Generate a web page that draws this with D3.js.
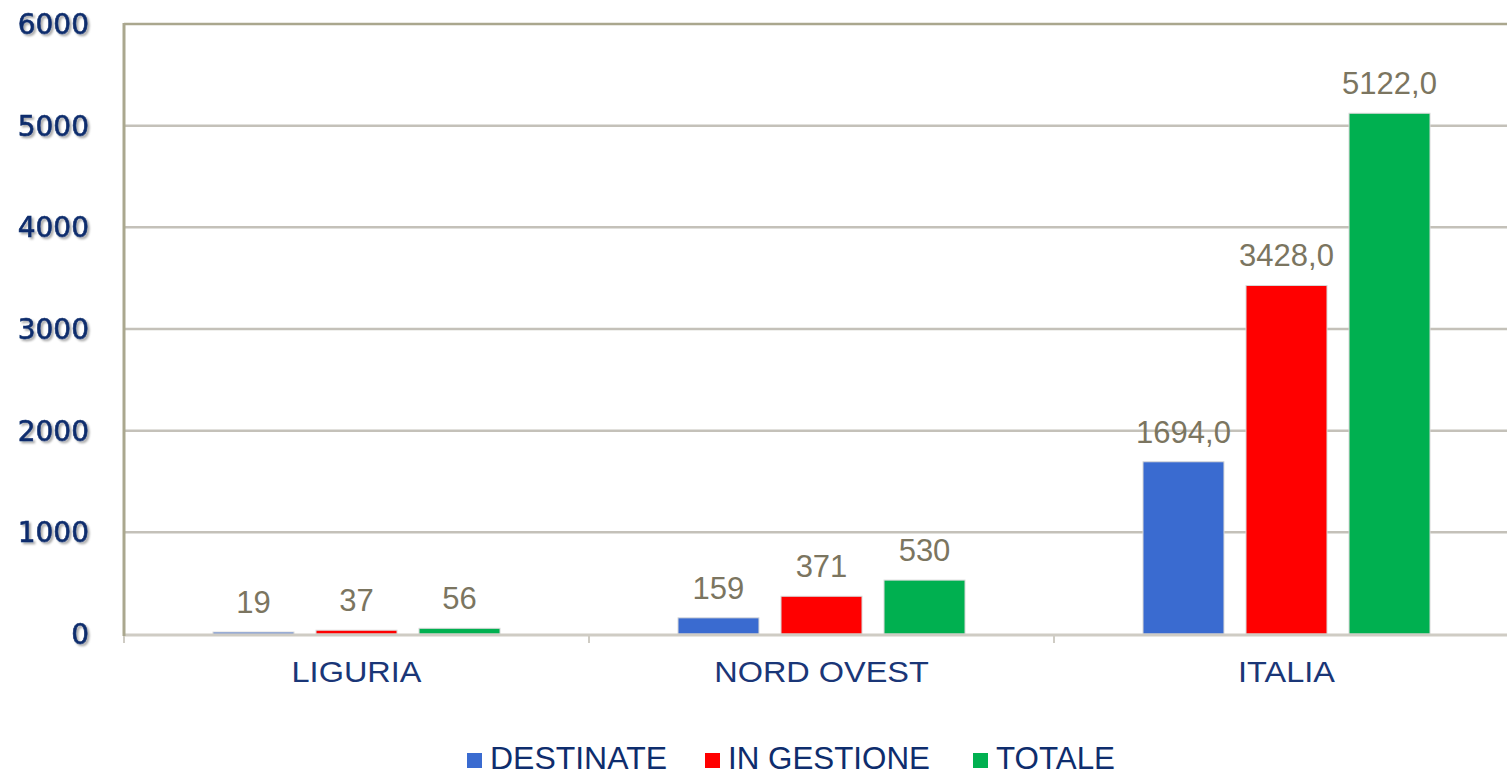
<!DOCTYPE html>
<html>
<head>
<meta charset="utf-8">
<script src="https://cdn.jsdelivr.net/npm/d3@7"></script>
<style>
  body { margin:0; background:#fff; }
  svg { display:block; }
</style>
</head>
<body>
<svg></svg>
<script>
var categories = ["LIGURIA", "NORD OVEST", "ITALIA"];
var seriesNames = ["DESTINATE", "IN GESTIONE", "TOTALE"];
var destinate = [19, 159, 1694];
var inGestione = [37, 371, 3428];
var totale = [56, 530, 5122];
var labelsDestinate = ["19", "159", "1694,0"];
var labelsInGestione = ["37", "371", "3428,0"];
var labelsTotale = ["56", "530", "5122,0"];
var yTicks = [0, 1000, 2000, 3000, 4000, 5000, 6000];
var colors = ["#3a6bd0", "#ff0000", "#00b050"];

var drawGraph = function()
{
  var screen = { width:1507, height:775 };

  var svg = d3.select("svg")
              .attr("width", screen.width)
              .attr("height", screen.height);

  var margins = { top:24, left:124, bottom:141 };
  var zeroY = screen.height - margins.bottom;

  var defs = svg.append("defs");
  var f = defs.append("filter").attr("id","shadow")
              .attr("x","-20%").attr("y","-20%").attr("width","150%").attr("height","160%");
  f.append("feDropShadow").attr("dx",2).attr("dy",2).attr("stdDeviation",1.3)
   .attr("flood-color","#000").attr("flood-opacity",0.35);

  var yScale = d3.scaleLinear()
                 .domain([0,6000])
                 .range([zeroY, margins.top]);

  var xScale = d3.scaleBand()
                 .domain(categories)
                 .range([margins.left, margins.left + 465*3]);

  var xInner = d3.scaleBand()
                 .domain(seriesNames)
                 .range([89, 376])
                 .paddingInner(0.214);

  // gridlines
  svg.append("g").selectAll("line")
     .data(yTicks.filter(function(d){ return d > 0 && d < 6000; }))
     .enter().append("line")
     .attr("x1", margins.left).attr("x2", screen.width)
     .attr("y1", function(d){ return yScale(d); })
     .attr("y2", function(d){ return yScale(d); })
     .attr("stroke", "#c4c1b9").attr("stroke-width", 2.5);

  // top border
  svg.append("line")
     .attr("x1", margins.left).attr("x2", screen.width)
     .attr("y1", yScale(6000)).attr("y2", yScale(6000))
     .attr("stroke", "#aaa78e").attr("stroke-width", 2.5);

  // y labels
  svg.append("g").selectAll("text")
     .data(yTicks)
     .enter().append("text")
     .attr("x", 89)
     .attr("y", function(d){ return yScale(d); })
     .attr("dy", "0.36em")
     .attr("text-anchor", "end")
     .attr("font-family", "DejaVu Sans, Verdana, sans-serif")
     .attr("font-size", 28)
     .attr("fill", "#0e2d6d")
     .attr("stroke", "#0e2d6d")
     .attr("stroke-width", 0.6)
     .attr("filter", "url(#shadow)")
     .text(function(d){ return d; });

  var table = categories.map(function(c, i)
  {
    return {
      cat: c,
      values: [
        { name: seriesNames[0], value: destinate[i], label: labelsDestinate[i], color: colors[0] },
        { name: seriesNames[1], value: inGestione[i], label: labelsInGestione[i], color: colors[1] },
        { name: seriesNames[2], value: totale[i], label: labelsTotale[i], color: colors[2] }
      ]
    };
  });

  var groups = svg.append("g").selectAll("g")
                  .data(table)
                  .enter().append("g")
                  .attr("transform", function(d){ return "translate(" + xScale(d.cat) + ",0)"; });

  groups.selectAll("rect")
        .data(function(d){ return d.values; })
        .enter().append("rect")
        .attr("x", function(d){ return xInner(d.name); })
        .attr("y", function(d){ return yScale(d.value); })
        .attr("width", xInner.bandwidth())
        .attr("height", function(d){ return zeroY - yScale(d.value); })
        .attr("fill", function(d){ return d.color; })
        .attr("stroke", "#d8d8d8")
        .attr("stroke-width", 1);

  groups.selectAll("text")
        .data(function(d){ return d.values; })
        .enter().append("text")
        .attr("x", function(d){ return xInner(d.name) + xInner.bandwidth()/2; })
        .attr("y", function(d){ return yScale(d.value) - 19; })
        .attr("text-anchor", "middle")
        .attr("font-family", "Liberation Sans, Arial, sans-serif")
        .attr("font-size", 31)
        .attr("fill", "#7b7560")
        .text(function(d){ return d.label; });

  // bottom axis
  svg.append("line")
     .attr("x1", margins.left).attr("x2", screen.width)
     .attr("y1", zeroY + 1).attr("y2", zeroY + 1)
     .attr("stroke", "#cfccc4").attr("stroke-width", 3);

  svg.append("g").selectAll("line")
     .data(categories)
     .enter().append("line")
     .attr("x1", function(d){ return xScale(d); })
     .attr("x2", function(d){ return xScale(d); })
     .attr("y1", zeroY).attr("y2", zeroY + 9)
     .attr("stroke", "#cfccc4").attr("stroke-width", 2);

  // left axis
  svg.append("line")
     .attr("x1", margins.left).attr("x2", margins.left)
     .attr("y1", yScale(6000) - 1).attr("y2", zeroY + 2)
     .attr("stroke", "#aaa78e").attr("stroke-width", 3);

  // category labels (slightly stretched like the original)
  svg.append("g").selectAll("text")
     .data(categories)
     .enter().append("text")
     .attr("transform", function(d){ return "translate(" + (xScale(d) + xScale.bandwidth()/2) + ",682) scale(1.12,1)"; })
     .attr("text-anchor", "middle")
     .attr("font-family", "Liberation Sans, Arial, sans-serif")
     .attr("font-size", 29)
     .attr("fill", "#1a3677")
     .text(function(d){ return d; });

  // legend
  var legendX = [467, 705, 973];
  var legend = svg.append("g").selectAll("g")
                  .data(seriesNames)
                  .enter().append("g")
                  .attr("transform", function(d, i){ return "translate(" + legendX[i] + ",0)"; });

  legend.append("rect")
        .attr("x", 0).attr("y", 753)
        .attr("width", 15).attr("height", 15)
        .attr("fill", function(d, i){ return colors[i]; });

  legend.append("text")
        .attr("x", 23).attr("y", 769)
        .attr("font-family", "Liberation Sans, Arial, sans-serif")
        .attr("font-size", 31)
        .attr("fill", "#0e2d6d")
        .attr("textLength", function(d, i){ return [177, 202, 119][i]; })
        .attr("lengthAdjust", "spacingAndGlyphs")
        .text(function(d){ return d; });
}

drawGraph();
</script>
</body>
</html>
